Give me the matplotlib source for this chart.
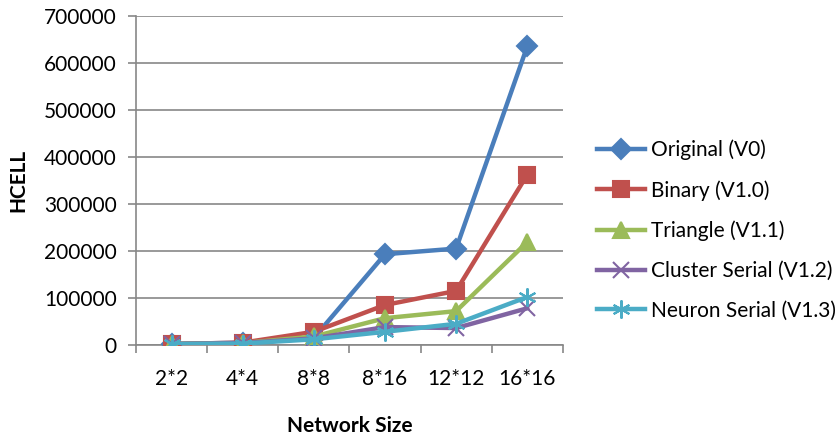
import numpy as np
import matplotlib.pyplot as plt

plt.rcParams["font.family"] = ["Lato", "DejaVu Sans"]

sizes = ["2*2", "4*4", "8*8", "8*16", "12*12", "16*16"]
original = [2000, 5000, 15000, 193000, 205000, 635000]
binary = [2000, 5000, 28000, 85000, 115000, 362000]
triangle = [2000, 4000, 18000, 57000, 72000, 219000]
cluster = [2000, 4000, 14000, 38000, 36000, 78000]
neuron = [2000, 3000, 12000, 28000, 45000, 102000]

series = [
    ("Original (V0)", original, "#4A7EBB", "D", 10),
    ("Binary (V1.0)", binary, "#C0504D", "s", 11),
    ("Triangle (V1.1)", triangle, "#9BBB59", "^", 11),
    ("Cluster Serial (V1.2)", cluster, "#8064A2", "x", 11),
    ("Neuron Serial (V1.3)", neuron, "#4BACC6", (6, 2, 0), 13),
]

fig = plt.figure(figsize=(8.35, 4.4), dpi=100)
ax = fig.add_axes([0.163, 0.216, 0.511, 0.748])

x = np.arange(len(sizes))
for name, vals, color, marker, ms in series:
    ax.plot(x, vals, color=color, marker=marker, markersize=ms, linewidth=3.2,
            markeredgewidth=1.5, markeredgecolor=color, label=name, zorder=3)

ax.set_xlim(-0.5, len(sizes) - 0.5)
ax.set_ylim(0, 700000)
ax.set_yticks(np.arange(0, 700001, 100000))
ax.yaxis.grid(True, color="#878787", linewidth=1.2)
ax.set_axisbelow(True)

ax.set_xticks(x)
ax.set_xticklabels(sizes)
ax.set_xticks(np.arange(-0.5, len(sizes)), minor=True)
ax.tick_params(axis="x", which="major", length=0, pad=17, labelsize=15)
ax.tick_params(axis="x", which="minor", length=6, color="#878787", width=1.2)
ax.tick_params(axis="y", length=6, color="#878787", width=1.2, labelsize=15, pad=8)

for s in ["top", "right"]:
    ax.spines[s].set_visible(False)
for s in ["left", "bottom"]:
    ax.spines[s].set_color("#878787")
    ax.spines[s].set_linewidth(1.2)

ax.set_xlabel("Network Size", fontsize=15, fontweight="bold", labelpad=20)
ax.set_ylabel("HCELL", fontsize=15, fontweight="bold", labelpad=11)

fig.legend(loc="center left", bbox_to_anchor=(0.705, 0.477), frameon=False,
           fontsize=15, handlelength=2.3, labelspacing=0.95, handletextpad=0.3,
           borderaxespad=0)

fig.savefig("out.png", dpi=100)
